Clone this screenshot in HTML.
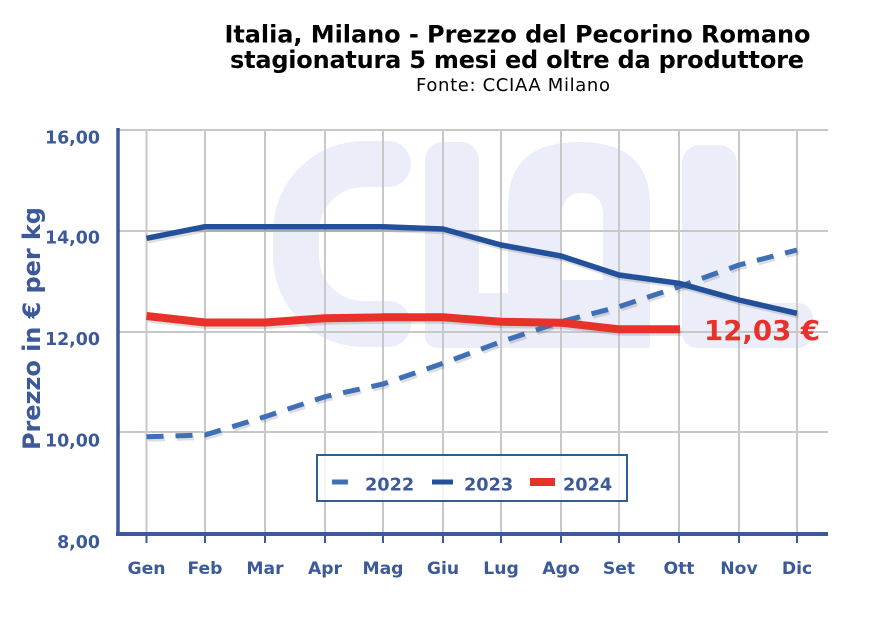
<!DOCTYPE html>
<html><head><meta charset="utf-8"><style>
html,body{margin:0;padding:0;background:#fff;}
svg{display:block;}
</style></head><body>
<svg width="878" height="618" viewBox="0 0 878 618" xmlns="http://www.w3.org/2000/svg">
<rect width="878" height="618" fill="#fff"/>
<!-- watermark -->
<g fill="#ebeef8">
<path d="M388,164 L364,164 A68,68 0 0 0 296,232 L296,256 A68,68 0 0 0 364,324 L388,324" fill="none" stroke="#ebeef8" stroke-width="46" stroke-linecap="round"/>
<rect x="425" y="142" width="54" height="206" rx="18"/>
<rect x="425" y="293" width="90" height="55" rx="12"/>
<path fill-rule="evenodd" d="M508,348 L508,205 Q508,142 579,142 Q650,142 650,205 L650,348 Z M562,280 L603,280 L603,215 Q603,193 582,193 Q562,193 562,215 Z"/>
<rect x="682" y="145" width="55" height="203" rx="18"/>
<rect x="682" y="303" width="131" height="45" rx="15"/>
</g>
<!-- gridlines -->
<g stroke="#c8c8c8" stroke-width="2">
<line x1="118" y1="130" x2="828" y2="130"/>
<line x1="118" y1="231" x2="828" y2="231"/>
<line x1="118" y1="332" x2="828" y2="332"/>
<line x1="118" y1="432" x2="828" y2="432"/>
<line x1="146.5" y1="130" x2="146.5" y2="533"/>
<line x1="205" y1="130" x2="205" y2="533"/>
<line x1="265" y1="130" x2="265" y2="533"/>
<line x1="325" y1="130" x2="325" y2="533"/>
<line x1="383" y1="130" x2="383" y2="533"/>
<line x1="443" y1="130" x2="443" y2="533"/>
<line x1="501" y1="130" x2="501" y2="533"/>
<line x1="561" y1="130" x2="561" y2="533"/>
<line x1="619" y1="130" x2="619" y2="533"/>
<line x1="679" y1="130" x2="679" y2="533"/>
<line x1="739" y1="130" x2="739" y2="533"/>
<line x1="797" y1="130" x2="797" y2="533"/>
</g>
<!-- shadows -->
<g fill="none" stroke="rgba(0,0,0,0.13)" stroke-linejoin="round" transform="translate(1.5,2.5)">
<polyline stroke-width="5" stroke-dasharray="17 12" points="146.5,436.7 205,435 265,416.7 325,396.7 383,384 443,363.3 501,341.7 561,321.7 619,306.7 679,286.7 739,265 797,250"/>
<polyline stroke-width="5.5" points="146.5,238.3 205,226.7 265,226.7 325,226.7 383,226.7 443,229 501,245 561,256 619,275 679,283.3 739,300 797,313.3"/>
<polyline stroke-width="8" points="146.5,316 205,322.5 265,322.5 325,318.3 383,317.3 443,317.3 501,321.7 561,322.7 619,329.3 680,329.3"/>
</g>
<!-- series -->
<polyline fill="none" stroke="#3f6fb6" stroke-width="5" stroke-dasharray="17 12" stroke-linejoin="round" points="146.5,436.7 205,435 265,416.7 325,396.7 383,384 443,363.3 501,341.7 561,321.7 619,306.7 679,286.7 739,265 797,250"/>
<polyline fill="none" stroke="#23509b" stroke-width="5.5" stroke-linejoin="round" points="146.5,238.3 205,226.7 265,226.7 325,226.7 383,226.7 443,229 501,245 561,256 619,275 679,283.3 739,300 797,313.3"/>
<polyline fill="none" stroke="#e8312a" stroke-width="8" stroke-linejoin="round" points="146.5,316 205,322.5 265,322.5 325,318.3 383,317.3 443,317.3 501,321.7 561,322.7 619,329.3 680,329.3"/>
<!-- axes -->
<g stroke="#3c5a99">
<line x1="118" y1="128" x2="118" y2="536" stroke-width="3.5"/>
<line x1="116" y1="534" x2="828" y2="534" stroke-width="4"/>
<g stroke-width="2">
<line x1="146.5" y1="534" x2="146.5" y2="543"/>
<line x1="205" y1="534" x2="205" y2="543"/>
<line x1="265" y1="534" x2="265" y2="543"/>
<line x1="325" y1="534" x2="325" y2="543"/>
<line x1="383" y1="534" x2="383" y2="543"/>
<line x1="443" y1="534" x2="443" y2="543"/>
<line x1="501" y1="534" x2="501" y2="543"/>
<line x1="561" y1="534" x2="561" y2="543"/>
<line x1="619" y1="534" x2="619" y2="543"/>
<line x1="679" y1="534" x2="679" y2="543"/>
<line x1="739" y1="534" x2="739" y2="543"/>
<line x1="797" y1="534" x2="797" y2="543"/>
</g>
</g>
<!-- y tick labels -->
<g font-family="'DejaVu Sans', 'Liberation Sans', sans-serif" font-weight="bold" font-size="17.4" fill="#3c5a99" text-anchor="end">
<text x="100" y="143.3">16,00</text>
<text x="100" y="243.5">14,00</text>
<text x="100" y="344.8">12,00</text>
<text x="100" y="446.5">10,00</text>
<text x="100" y="548">8,00</text>
</g>
<!-- x labels -->
<g font-family="'DejaVu Sans', 'Liberation Sans', sans-serif" font-weight="bold" font-size="17.2" fill="#3c5a99" text-anchor="middle">
<text x="146.5" y="574">Gen</text>
<text x="205" y="574">Feb</text>
<text x="265" y="574">Mar</text>
<text x="325" y="574">Apr</text>
<text x="383" y="574">Mag</text>
<text x="443" y="574">Giu</text>
<text x="501" y="574">Lug</text>
<text x="561" y="574">Ago</text>
<text x="619" y="574">Set</text>
<text x="679" y="574">Ott</text>
<text x="739" y="574">Nov</text>
<text x="797" y="574">Dic</text>
</g>
<!-- y axis title -->
<text transform="translate(40,328.5) rotate(-90)" font-family="'DejaVu Sans', 'Liberation Sans', sans-serif" font-weight="bold" font-size="24" fill="#3c5a99" text-anchor="middle" textLength="243" lengthAdjust="spacing">Prezzo in € per kg</text>
<!-- legend -->
<rect x="317" y="455" width="310" height="46" fill="rgba(255,255,255,0.82)" stroke="#2e5f92" stroke-width="2"/>
<line x1="332" y1="482" x2="348" y2="482" stroke="#3f6fb6" stroke-width="5"/>
<line x1="432" y1="482" x2="453" y2="482" stroke="#23509b" stroke-width="5"/>
<line x1="530" y1="482" x2="555" y2="482" stroke="#e8312a" stroke-width="8"/>
<g font-family="'DejaVu Sans', 'Liberation Sans', sans-serif" font-weight="bold" font-size="17.7" fill="#3c5a99">
<text x="365" y="490.5">2022</text>
<text x="464" y="490.5">2023</text>
<text x="563" y="490.5">2024</text>
</g>
<!-- value label -->
<text x="704" y="340" font-family="'DejaVu Sans', 'Liberation Sans', sans-serif" font-weight="bold" font-size="27.6" fill="#e8312a">12,03 €</text>
<!-- title -->
<g font-family="'DejaVu Sans', 'Liberation Sans', sans-serif" fill="#000" text-anchor="middle">
<text x="517.5" y="42.3" font-weight="bold" font-size="24" textLength="586" lengthAdjust="spacing">Italia, Milano - Prezzo del Pecorino Romano</text>
<text x="517" y="68" font-weight="bold" font-size="24" textLength="574" lengthAdjust="spacing">stagionatura 5 mesi ed oltre da produttore</text>
<text x="513" y="91" font-size="18" textLength="194" lengthAdjust="spacing">Fonte: CCIAA Milano</text>
</g>
</svg>
</body></html>
